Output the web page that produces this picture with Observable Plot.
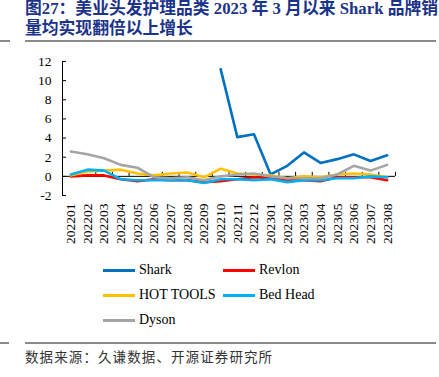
<!DOCTYPE html>
<html><head><meta charset="utf-8">
<script src="https://cdn.jsdelivr.net/npm/d3@7"></script>
<script src="https://cdn.jsdelivr.net/npm/@observablehq/plot@0.6"></script>
<style>
body{margin:0;width:439px;height:377px;position:relative;overflow:hidden;background:#fff;font-family:"Liberation Serif","Noto Sans CJK SC",serif;}
.t{position:absolute;left:25px;white-space:nowrap;color:#1B3389;font-weight:bold;font-size:16.8px;line-height:24px;font-family:"Liberation Serif","Noto Sans CJK SC",serif;}
.rule{position:absolute;height:1.5px;background:#8a8a8a;}
#chart{position:absolute;left:0;top:50px;}
#chart svg text{font-family:"Liberation Serif",serif !important;}
.lg{position:absolute;font-size:14px;line-height:16px;color:#000;white-space:nowrap;}
.sw{position:absolute;height:3px;}
#cap{position:absolute;left:25px;top:346px;font-size:13.5px;letter-spacing:1.1px;color:#333;font-family:"Noto Sans CJK SC",sans-serif;white-space:nowrap;}
</style></head><body>
<div class="t" style="top:-3px">图27：美业头发护理品类 2023 年 3 月以来 Shark 品牌销</div>
<div class="t" style="top:17px">量均实现翻倍以上增长</div>
<div class="rule" style="left:0;width:10px;top:40px"></div>
<div class="rule" style="left:25px;width:411px;top:40px"></div>
<div id="chart"></div>
<div id="legend"></div>
<div class="rule" style="left:0;width:9px;top:342px"></div>
<div class="rule" style="left:25px;width:411px;top:342px"></div>
<div id="cap">数据来源：久谦数据、开源证券研究所</div>
<script>
const months = ["202201","202202","202203","202204","202205","202206","202207","202208","202209","202210","202211","202212","202301","202302","202303","202304","202305","202306","202307","202308"];
const shark    = [null,null,null,null,null,null,null,null,null,11.2,4.1,4.4,0.2,1.1,2.5,1.4,1.8,2.3,1.6,2.2];
const revlon   = [0.0,0.1,0.1,-0.3,-0.5,-0.3,-0.4,-0.4,-0.6,-0.5,-0.3,-0.1,-0.2,-0.4,-0.4,-0.5,-0.1,-0.1,-0.1,-0.4];
const hotTools = [0.1,0.5,0.6,0.7,0.3,0.1,0.3,0.4,-0.1,0.8,0.3,0.2,0.1,-0.2,0.0,-0.1,0.2,0.3,0.2,-0.1];
const bedHead  = [0.2,0.7,0.6,-0.3,-0.4,-0.4,-0.4,-0.4,-0.7,-0.3,-0.3,-0.4,-0.3,-0.6,-0.4,-0.4,-0.2,-0.2,0.0,-0.1];
const dyson    = [2.6,2.3,1.9,1.2,0.9,-0.1,-0.2,-0.1,-0.4,0.0,0.2,0.3,0.0,-0.2,-0.2,-0.2,0.2,1.1,0.6,1.2];
const seriesNames = ["Shark","Revlon","HOT TOOLS","Bed Head","Dyson"];
const seriesColors = ["#0070C0","#FF0000","#FFC000","#00B0F0","#A5A5A5"];
const yTicks = [-2,0,2,4,6,8,10,12];

const allSeries = [shark, revlon, hotTools, bedHead, dyson];
const idx = d3.range(months.length);
const lineMarks = allSeries.map((vals, k) =>
  Plot.line(idx.filter(i => vals[i] != null).map(i => ({i, v: vals[i]})),
    {x: "i", y: "v", stroke: seriesColors[k], strokeWidth: 2.6})
);
const W = 439, ML = 62, MR = 44;
const unitX = (W - ML - MR) / months.length;
const unitY = 134 / 14;
const serif = "Liberation Serif, Times New Roman, serif";

const chart = Plot.plot({
  width: W, height: 200,
  marginLeft: ML, marginRight: MR, marginTop: 11, marginBottom: 55,
  x: {domain: [-0.5, months.length - 0.5], label: null},
  y: {domain: [-2, 12], label: null},
  style: {fontFamily: serif, fontSize: "13.5px", color: "#000", background: "transparent"},
  marks: [
    Plot.ruleX([-0.5], {y1: -2, y2: 12, stroke: "#000", strokeWidth: 1}),
    Plot.ruleY(yTicks, {y: d => d, x1: -0.5, x2: -0.5 + 4 / unitX, stroke: "#000", strokeWidth: 1}),
    Plot.ruleY([0], {x1: -0.5, x2: months.length - 0.5, stroke: "#000", strokeWidth: 1}),
    Plot.ruleX(d3.range(months.length + 1).map(i => i - 0.5), {x: d => d, y1: 0, y2: 4 / unitY, stroke: "#000", strokeWidth: 1}),
    Plot.axisY(yTicks, {tickSize: 0, tickPadding: 11, tickFormat: d => String(d), fontSize: 13.5, fontFamily: serif, label: null}),
    Plot.axisX(idx, {anchor: "bottom", tickSize: 0, tickPadding: 8, tickRotate: -90, tickFormat: i => months[i], fontSize: 13.5, fontFamily: serif, label: null}),
    ...lineMarks
  ]
});
document.getElementById("chart").appendChild(chart);

const lg = document.getElementById("legend");
const pos = [[103,270],[223,270],[103,295],[223,295],[103,320]];
seriesNames.forEach((n, k) => {
  const [x, y] = pos[k];
  const sw = document.createElement("div");
  sw.className = "sw";
  sw.style.cssText = `left:${x}px;top:${y - 1.5}px;width:32px;background:${seriesColors[k]}`;
  lg.appendChild(sw);
  const t = document.createElement("div");
  t.className = "lg";
  t.style.cssText = `left:${x + 36}px;top:${y - 8}px`;
  t.textContent = n;
  lg.appendChild(t);
});
</script>
</body></html>
